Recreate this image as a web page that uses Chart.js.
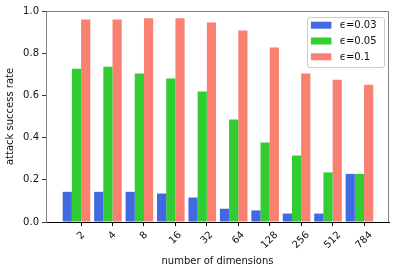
<!DOCTYPE html>
<html>
<head>
<meta charset="utf-8">
<script src="https://cdn.jsdelivr.net/npm/chart.js@4"></script>
<style>
    html, body { margin: 0; padding: 0; background: #fff; }
    canvas { display: block; }
</style>
</head>
<body>
<canvas id="chart" width="399" height="274"></canvas>
<script>
// data
const dimensions = ['2', '4', '8', '16', '32', '64', '128', '256', '512', '784'];
const seriesLabels = ['ϵ=0.03', 'ϵ=0.05', 'ϵ=0.1'];
const eps003 = [0.143, 0.143, 0.143, 0.135, 0.116, 0.063, 0.055, 0.040, 0.040, 0.228];
const eps005 = [0.726, 0.736, 0.704, 0.680, 0.618, 0.486, 0.377, 0.315, 0.235, 0.228];
const eps01 = [0.960, 0.960, 0.966, 0.966, 0.946, 0.908, 0.827, 0.704, 0.674, 0.650];
const yTicks = [0, 0.2, 0.4, 0.6, 0.8, 1.0];

const colors = ['#4169E1', '#32CD32', '#FA8072'];
const textColor = '#111';
const groupWidth = 0.878;
const tickShift = groupWidth / 3 / 2;   // ticks sit on the green/red boundary

Chart.defaults.font.family = '"DejaVu Sans", sans-serif';
Chart.defaults.font.size = 10;
Chart.defaults.color = textColor;

const toPoints = values => values.map((v, i) => ({ x: i, y: v }));

// x tick labels, rotated 45 deg and centred on the tick like matplotlib
const rotatedTicks = {
    id: 'rotatedTicks',
    afterDraw(chart) {
        const { ctx, chartArea } = chart;
        const scale = chart.scales.x;
        const top = chartArea.bottom + 7.5;
        ctx.save();
        ctx.font = '10px "DejaVu Sans"';
        ctx.fillStyle = textColor;
        ctx.textAlign = 'center';
        ctx.textBaseline = 'middle';
        scale.ticks.forEach((tick, i) => {
            const label = dimensions[i];
            const w = ctx.measureText(label).width;
            const half = (w + 11) * Math.SQRT1_2 / 2;
            ctx.save();
            ctx.translate(scale.getPixelForValue(tick.value), top + half);
            ctx.rotate(-Math.PI / 4);
            ctx.fillText(label, 0, 0);
            ctx.restore();
        });
        ctx.restore();
    }
};

// top and right spines
const frame = {
    id: 'frame',
    afterDraw(chart) {
        const { ctx, chartArea } = chart;
        const l = Math.round(chartArea.left) + 0.5;
        const r = Math.round(chartArea.right) - 0.5;
        const t = Math.round(chartArea.top) + 0.5;
        ctx.save();
        ctx.strokeStyle = '#808080';
        ctx.lineWidth = 1;
        ctx.beginPath();
        ctx.moveTo(l, t);
        ctx.lineTo(r, t);
        ctx.lineTo(r, chartArea.bottom);
        ctx.stroke();
        ctx.restore();
    }
};

// legend box in the upper right of the axes
const legendBox = {
    id: 'legendBox',
    afterDraw(chart) {
        const { ctx, chartArea } = chart;
        const sets = chart.data.datasets;
        const boxW = 77, boxH = 50;
        const x0 = chartArea.right - 4.7 - boxW;
        const y0 = chartArea.top + 5.8;
        ctx.save();
        ctx.fillStyle = 'rgba(255,255,255,0.8)';
        ctx.strokeStyle = '#cccccc';
        ctx.lineWidth = 1;
        ctx.beginPath();
        ctx.roundRect(Math.round(x0) + 0.5, Math.round(y0) + 0.5, boxW, boxH, 2.5);
        ctx.fill();
        ctx.stroke();
        ctx.font = '10px "DejaVu Sans"';
        ctx.textBaseline = 'middle';
        ctx.textAlign = 'left';
        sets.forEach((ds, i) => {
            const cy = y0 + 8.4 + i * 15.8;
            ctx.fillStyle = ds.backgroundColor;
            ctx.fillRect(x0 + 3.6, cy - 3.5, 20.5, 7);
            ctx.fillStyle = textColor;
            ctx.fillText(ds.label, x0 + 32.5, cy + 0.5);
        });
        ctx.restore();
    }
};

new Chart(document.getElementById('chart'), {
    type: 'bar',
    data: {
        datasets: [eps003, eps005, eps01].map((values, i) => ({
            label: seriesLabels[i],
            data: toPoints(values),
            backgroundColor: colors[i],
            borderWidth: 0,
            categoryPercentage: groupWidth,
            barPercentage: 1.0
        }))
    },
    options: {
        responsive: false,
        animation: false,
        devicePixelRatio: 1,
        layout: { padding: { left: 0, top: 11, right: 10, bottom: 0 } },
        plugins: {
            legend: { display: false },
            tooltip: { enabled: false }
        },
        scales: {
            x: {
                type: 'linear',
                min: -0.97,
                max: 9.94,
                offset: false,
                grid: { display: true, offset: false, drawOnChartArea: false, drawTicks: true, tickLength: 4, color: '#000' },
                border: { display: true, color: '#000', width: 1 },
                ticks: { display: false, autoSkip: false },
                afterBuildTicks: axis => {
                    axis.ticks = dimensions.map((d, i) => ({ value: i + tickShift }));
                },
                title: {
                    display: true,
                    text: 'number of dimensions',
                    color: textColor,
                    padding: { top: 4, bottom: 7 }
                },
                afterFit: scale => { scale.height = 52; }
            },
            y: {
                min: 0,
                max: 1,
                grid: { display: true, drawOnChartArea: false, drawTicks: true, tickLength: 4, color: '#333' },
                border: { display: true, color: '#808080', width: 1 },
                ticks: {
                    padding: 3,
                    color: textColor,
                    callback: v => v.toFixed(1)
                },
                afterBuildTicks: axis => {
                    axis.ticks = yTicks.map(v => ({ value: v }));
                },
                title: {
                    display: true,
                    text: 'attack success rate',
                    color: textColor,
                    padding: { top: 4, bottom: 4 }
                },
                afterFit: scale => { scale.width = 46; }
            }
        }
    },
    plugins: [rotatedTicks, frame, legendBox]
});
</script>
</body>
</html>
